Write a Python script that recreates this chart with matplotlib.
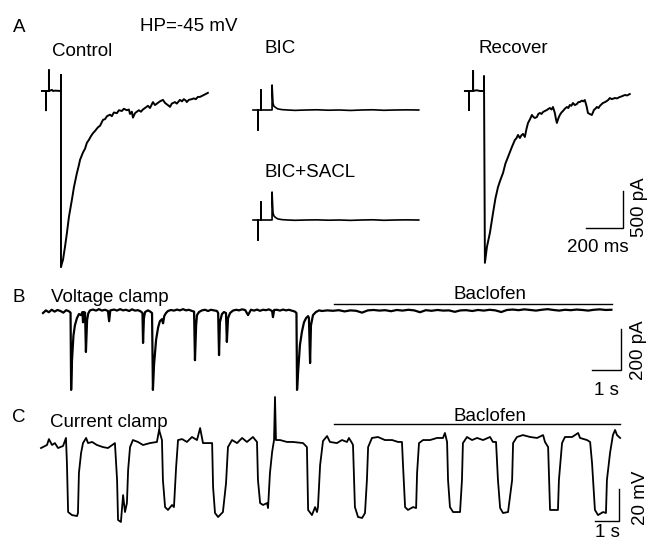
import numpy as np
import matplotlib
matplotlib.use('Agg')
import matplotlib.pyplot as plt

# Plot settings
plt.rcParams['font.family'] = 'Liberation Sans'
plt.rcParams['font.size'] = 13.5

# ---- Data ----
# A: evoked currents, time in ms from stimulus, current in pA
ctrl_ms = [-22, 0, 0, 0, 16, 16, 16, 27, 32, 38,
           49, 81, 81, 81, 86, 92, 103, 113, 124, 140,
           151, 167, 178, 184, 200, 211, 221, 232, 243, 254,
           265, 281, 292, 308, 319, 330, 346, 356, 367, 383,
           394, 410, 421, 437, 448, 454, 464, 470, 481, 491,
           502, 513, 524, 535, 551, 562, 578, 589, 605, 616,
           632, 643, 653, 664, 670, 680, 697, 707, 724, 735,
           745, 756, 761, 772, 788, 799, 810, 821, 832, 848,
           864, 875]
ctrl_pA = [0, 0, -260, 0, 0, 280, 0, 10, 15, 0,
           5, 0, 215, -2380, -2330, -2280, -2100, -1920, -1700, -1470,
           -1300, -1110, -1000, -930, -830, -780, -700, -660, -610, -570,
           -540, -490, -470, -390, -380, -340, -320, -340, -290, -300,
           -260, -270, -240, -260, -250, -310, -280, -360, -300, -280,
           -260, -280, -250, -230, -200, -230, -150, -190, -160, -140,
           -120, -160, -180, -200, -215, -170, -150, -170, -120, -140,
           -110, -130, -150, -120, -110, -100, -110, -80, -80, -60,
           -40, -25]

rec_ms = [-22, 0, 0, 0, 22, 22, 22, 40, 60, 81,
          81, 86, 97, 113, 130, 143, 157, 170, 184, 197,
          211, 222, 232, 248, 256, 265, 275, 283, 292, 302,
          310, 319, 330, 340, 348, 356, 367, 375, 383, 392,
          400, 410, 421, 430, 437, 446, 454, 464, 470, 475,
          483, 491, 500, 508, 518, 529, 537, 545, 553, 562,
          572, 583, 591, 599, 610, 618, 626, 635, 643, 652,
          664, 670, 675, 683, 691, 700, 707, 716, 724, 735,
          745, 753, 761, 772, 788, 800, 815, 828, 842, 855,
          869]
rec_pA = [0, 0, -256, 0, 0, 270, 0, 10, 0, 0,
          203, -2322, -2106, -1917, -1647, -1450, -1296, -1200, -1107, -980,
          -891, -820, -756, -662, -640, -594, -635, -600, -580, -621,
          -520, -432, -380, -324, -350, -365, -351, -310, -297, -310,
          -284, -270, -257, -240, -230, -250, -216, -297, -380, -432,
          -370, -324, -290, -270, -240, -216, -230, -189, -200, -162,
          -190, -176, -150, -149, -130, -140, -122, -200, -297, -310,
          -324, -290, -257, -240, -216, -230, -203, -180, -162, -150,
          -135, -120, -95, -110, -95, -100, -81, -70, -54, -60,
          -41]

bic_ms = [-27, 0, 0, 0, 16, 16, 16, 76, 76, 81,
          86, 92, 100, 108, 130, 160, 200, 260, 320, 380,
          440, 500, 560, 620, 680, 740, 800, 869]
bic_pA = [0, 0, -270, 0, 0, 270, 0, 0, 338, 95,
          50, 40, 25, 14, 5, 0, -5, 0, 3, -3,
          0, -6, 0, 3, -4, 0, 2, 0]
sacl_pA = [0, 0, -270, 0, 0, 243, 0, 0, 378, 100,
           55, 40, 25, 14, 5, 0, -4, 0, 2, -3,
           0, -5, 0, 3, -4, 0, 2, 0]

# B: voltage clamp, time in s, current in pA
vc_s = [0.0, 0.1, 0.2, 0.3, 0.4, 0.5, 0.6, 0.7, 0.8, 0.9,
        0.95, 0.97, 1.00, 1.05, 1.10, 1.17, 1.24, 1.31, 1.36, 1.38,
        1.41, 1.45, 1.48, 1.52, 1.56, 1.62, 1.72, 1.83, 1.93, 2.03,
        2.14, 2.24, 2.28, 2.32, 2.45, 2.55, 2.66, 2.76, 2.86, 2.97,
        3.07, 3.17, 3.28, 3.38, 3.43, 3.45, 3.48, 3.52, 3.62, 3.70,
        3.76, 3.79, 3.83, 3.90, 3.97, 4.03, 4.10, 4.14, 4.18, 4.24,
        4.31, 4.41, 4.52, 4.62, 4.72, 4.83, 4.93, 5.03, 5.14, 5.21,
        5.24, 5.28, 5.31, 5.38, 5.48, 5.59, 5.69, 5.79, 5.90, 6.00,
        6.04, 6.07, 6.10, 6.17, 6.24, 6.31, 6.34, 6.38, 6.45, 6.55,
        6.66, 6.76, 6.86, 6.97, 7.07, 7.17, 7.28, 7.38, 7.48, 7.59,
        7.69, 7.79, 7.90, 7.93, 7.97, 8.07, 8.17, 8.28, 8.38, 8.48,
        8.59, 8.69, 8.74, 8.76, 8.80, 8.86, 8.93, 9.00, 9.07, 9.14,
        9.17, 9.21, 9.24, 9.31, 9.41, 9.52, 9.62, 9.80, 10.0, 10.2,
        10.4, 10.6, 10.8, 11.0, 11.2, 11.4, 11.6, 11.8, 12.0, 12.2,
        12.4, 12.6, 12.8, 13.0, 13.2, 13.4, 13.6, 13.8, 14.0, 14.2,
        14.4, 14.6, 14.8, 15.0, 15.2, 15.4, 15.6, 15.8, 16.0, 16.2,
        16.4, 16.6, 16.8, 17.0, 17.2, 17.4, 17.6, 17.8, 18.0, 18.2,
        18.4, 18.6, 18.8, 19.0, 19.2, 19.4, 19.6]
vc_pA = [-10, 3, -6, 6, -3, 5, 0, -8, 4, -2,
         -8, -385, -240, -120, -70, -35, -15, -20, -5, -55,
         -5, -8, -200, -45, -12, 3, 7, 2, 9, 2,
         6, 0, -50, 3, 7, 2, 9, 3, 6, 0,
         8, 2, 4, -3, -10, -156, -35, -5, 3, -3,
         -10, -385, -260, -140, -80, -50, -40, -60, -25, -10,
         0, 5, 2, 7, 3, 9, 3, 6, 0, -3,
         -240, -70, -20, -5, 3, 6, 0, 6, 3, 0,
         -10, -215, -55, -15, -5, -10, -151, -35, -10, 2,
         6, 3, 8, 5, -20, 6, 2, 7, 1, 6,
         4, 8, 0, -30, 5, 6, 2, 7, 3, 6,
         1, -3, -10, -385, -290, -166, -100, -55, -35, -25,
         -34, -254, -70, -20, -5, 3, 0, 3, 1, 4,
         -2, 3, 1, -8, 3, 5, 2, 4, -1, 5,
         2, 6, 3, -6, 4, 1, 5, 2, 3, -4,
         3, 4, 0, 5, 2, 6, 3, -5, 5, 7,
         4, 8, 5, 2, 6, 9, 5, 2, 6, 4,
         7, 5, 2, 6, 8, 5, 6]

# C: current clamp, time in s, membrane potential in mV
cc_s = [0, 0.25, 0.33, 0.46, 0.58, 0.71, 0.92, 1.04, 1.08, 1.13,
        1.29, 1.50, 1.54, 1.58, 1.67, 1.75, 1.88, 1.96, 2.13, 2.33,
        2.58, 2.79, 3.08, 3.17, 3.21, 3.33, 3.42, 3.50, 3.58, 3.63,
        3.71, 3.83, 4.04, 4.25, 4.54, 4.83, 4.92, 5.04, 5.08, 5.17,
        5.29, 5.46, 5.54, 5.63, 5.71, 5.88, 6.08, 6.29, 6.50, 6.63,
        6.75, 7.13, 7.17, 7.25, 7.38, 7.58, 7.71, 7.79, 7.96, 8.17,
        8.38, 8.58, 8.83, 9.00, 9.04, 9.13, 9.25, 9.42, 9.46, 9.54,
        9.63, 9.71, 9.75, 9.79, 9.96, 10.25, 10.50, 10.92, 11.08, 11.13,
        11.29, 11.42, 11.50, 11.54, 11.63, 11.75, 11.92, 12.04, 12.33, 12.54,
        12.75, 12.83, 12.96, 13.00, 13.08, 13.21, 13.38, 13.50, 13.58, 13.63,
        13.79, 14.04, 14.33, 14.63, 14.88, 15.04, 15.08, 15.17, 15.29, 15.50,
        15.63, 15.67, 15.75, 15.92, 16.21, 16.50, 16.75, 16.83, 16.92, 16.96,
        17.04, 17.17, 17.46, 17.54, 17.58, 17.75, 17.96, 18.17, 18.42, 18.71,
        18.83, 18.96, 19.04, 19.13, 19.25, 19.46, 19.63, 19.67, 19.83, 20.08,
        20.38, 20.67, 20.92, 21.00, 21.13, 21.21, 21.33, 21.54, 21.58, 21.71,
        21.83, 22.13, 22.38, 22.46, 22.75, 22.88, 22.96, 23.08, 23.21, 23.42,
        23.54, 23.58, 23.71, 23.83, 23.92, 24.00, 24.13]
cc_mV = [-51.9, -50.0, -46.3, -50.0, -48.8, -51.9, -50.6, -45.6, -61.3, -91.9,
         -93.8, -94.4, -92.5, -67.5, -55.0, -48.8, -45.6, -48.8, -48.1, -50.0,
         -51.3, -51.9, -48.8, -71.9, -96.9, -98.1, -81.3, -91.9, -86.3, -65.6,
         -51.3, -46.9, -48.1, -50.0, -48.8, -48.1, -40.6, -46.9, -71.9, -88.8,
         -90.6, -87.5, -88.8, -63.8, -46.9, -46.3, -48.1, -45.0, -46.9, -39.4,
         -48.8, -48.8, -76.3, -92.5, -95.0, -91.9, -73.8, -51.3, -46.9, -48.8,
         -45.6, -48.1, -45.0, -48.1, -71.9, -86.3, -87.5, -86.3, -89.4, -67.5,
         -54.4, -46.9, -20.0, -46.9, -46.9, -48.1, -48.1, -48.8, -51.3, -90.6,
         -93.8, -88.8, -91.9, -88.8, -62.5, -47.5, -44.4, -48.1, -48.8, -46.9,
         -48.1, -45.6, -48.8, -50.0, -88.8, -95.0, -95.6, -92.5, -71.9, -51.3,
         -45.6, -45.0, -46.9, -46.9, -48.1, -48.1, -61.3, -88.8, -90.6, -88.8,
         -89.4, -67.5, -48.8, -46.9, -46.9, -45.6, -45.6, -42.5, -48.1, -71.9,
         -88.8, -91.9, -91.9, -71.9, -48.8, -45.0, -46.9, -45.6, -46.9, -45.0,
         -48.1, -48.1, -71.9, -89.4, -92.5, -91.9, -71.9, -48.8, -45.0, -43.8,
         -45.0, -45.6, -43.8, -48.1, -51.3, -90.6, -90.6, -90.6, -71.9, -48.8,
         -45.0, -45.0, -42.5, -45.6, -46.9, -48.1, -61.3, -90.6, -93.8, -91.9,
         -92.5, -71.9, -55.0, -43.8, -40.6, -43.8, -45.6]

# Baclofen application (start, end) in s
vc_baclofen = (10.03, 19.62)
cc_baclofen = (12.21, 24.13)

# ---- Figure ----
W, H = 649, 547
fig = plt.figure(figsize=(W / 100, H / 100), dpi=100)


def add_panel(left, top, width, height, x_a, y_a, sx, sy, x0=0.0, y0=0.0):
    """Axes placed in pixel units; pixel (x_a, y_a) shows data (x0, y0), sx/sy = units per px."""
    ax = fig.add_axes([left / W, 1 - (top + height) / H, width / W, height / H])
    ax.set_xlim(x0 + (left - x_a) * sx, x0 + (left + width - x_a) * sx)
    ax.set_ylim(y0 + (y_a - top - height) * sy, y0 + (y_a - top) * sy)
    ax.axis('off')
    return ax


def label(x, y, s, **kw):
    fig.text(x / W, 1 - y / H, s, **kw)


def scale_bar(ax, x0, y0, dx, dy):
    ax.plot([x0, x0 + dx, x0 + dx], [y0, y0, y0 + dy], color='black', lw=1.0,
            clip_on=False, solid_joinstyle='miter')


MS_PX = 200 / 37
PA_PX = 500 / 37

# Panel A
ax = add_panel(35, 60, 180, 215, 46, 91, MS_PX, PA_PX)
ax.plot(ctrl_ms, ctrl_pA, color='black', lw=1.4)

ax = add_panel(245, 75, 180, 65, 258, 110, MS_PX, PA_PX)
ax.plot(bic_ms, bic_pA, color='black', lw=1.2)

ax = add_panel(245, 185, 180, 65, 258, 220, MS_PX, PA_PX)
ax.plot(bic_ms, sacl_pA, color='black', lw=1.2)

ax = add_panel(455, 60, 194, 215, 469, 91, MS_PX, PA_PX)
ax.plot(rec_ms, rec_pA, color='black', lw=1.4)
scale_bar(ax, 632, -1850, 200, 500)

# Panel B
ax = add_panel(35, 295, 614, 100, 43, 311, 1 / 29, 200 / 41)
ax.plot(vc_s, vc_pA, color='black', lw=1.6)
ax.plot(vc_baclofen, [34, 34], color='black', lw=1.0)
scale_bar(ax, 18.93, -288, 1, 200)

# Panel C
ax = add_panel(35, 390, 614, 150, 41, 445, 1 / 24, 20 / 32, y0=-50)
ax.plot(cc_s, cc_mV, color='black', lw=1.3)
ax.plot(cc_baclofen, [-36.9, -36.9], color='black', lw=1.0)
scale_bar(ax, 23.08, -97.5, 1, 20)

# Labels
label(13, 32, 'A', va='baseline')
label(140, 31, 'HP=-45 mV', va='baseline')
label(52, 56, 'Control', va='baseline')
label(265, 53, 'BIC', va='baseline')
label(265, 177, 'BIC+SACL', va='baseline')
label(478, 53, 'Recover', va='baseline')
label(598, 252, '200 ms', ha='center', va='baseline')
label(644, 207, '500 pA', ha='center', va='baseline', rotation=90, rotation_mode='anchor')

label(13, 302, 'B', va='baseline')
label(51, 302, 'Voltage clamp', va='baseline')
label(490, 299, 'Baclofen', ha='center', va='baseline')
label(606, 395, '1 s', ha='center', va='baseline')
label(643, 350, '200 pA', ha='center', va='baseline', rotation=90, rotation_mode='anchor')

label(12, 422, 'C', va='baseline')
label(50, 427, 'Current clamp', va='baseline')
label(490, 421, 'Baclofen', ha='center', va='baseline')
label(607, 537, '1 s', ha='center', va='baseline')
label(645, 498, '20 mV', ha='center', va='baseline', rotation=90, rotation_mode='anchor')

fig.savefig('out.png', dpi=100)
